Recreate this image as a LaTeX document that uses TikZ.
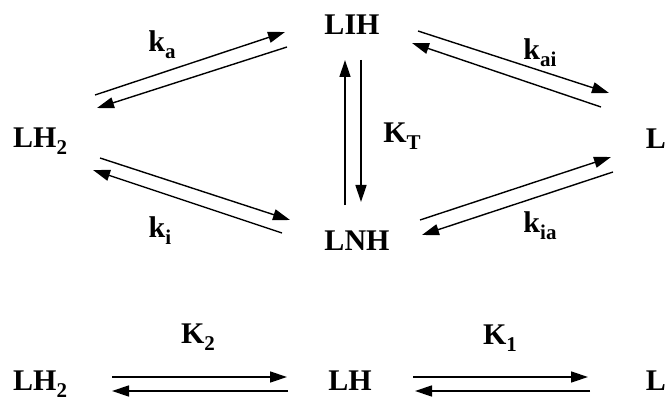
\documentclass[tikz,border=0pt]{standalone}
\usepackage{fontspec}
\setmainfont{Liberation Serif}
\usetikzlibrary{arrows.meta, calc}
\newcommand{\lowsub}[1]{\raisebox{-7pt}{\fontsize{21pt}{21pt}\selectfont #1}}

\begin{document}
\begin{tikzpicture}[x=1pt, y=-1pt, >={Triangle[length=17pt, width=11pt]},
  species/.style={font=\fontsize{30pt}{30pt}\selectfont\bfseries, inner sep=0pt},
  rate/.style={font=\fontsize{30pt}{30pt}\selectfont\bfseries, inner sep=0pt, anchor=base},
  react/.style={->, line width=1.4pt}]

\useasboundingbox (0,0) rectangle (667,401);

% --- Species of the cycle ---
\node[species, anchor=base] (lih) at (352, 35) {LIH};
\node[species, anchor=base] (lnh) at (357, 250) {LNH};
\node[species, anchor=base west] (lhtwo) at (13, 148) {LH\lowsub{2}};
\node[species, anchor=base east] (lmid) at (666, 149) {L};

% --- Species of the chain ---
\node[species, anchor=base west] (lhtwob) at (13, 390) {LH\lowsub{2}};
\node[species, anchor=base] (lh) at (350, 390) {LH};
\node[species, anchor=base east] (lbot) at (666, 390) {L};

% --- Rate labels ---
\node[rate] (ka) at (162, 52) {k\lowsub{a}};
\node[rate] (kai) at (540, 60) {k\lowsub{ai}};
\node[rate] (kt) at (402, 143) {K\lowsub{T}};
\node[rate] (ki) at (160, 237) {k\lowsub{i}};
\node[rate] (kia) at (540, 233) {k\lowsub{ia}};
\node[rate] (ktwo) at (198, 343) {K\lowsub{2}};
\node[rate] (kone) at (500, 344) {K\lowsub{1}};

% --- LH2 <-> LIH ---
\draw[react] ($(lhtwo.base west)+(82,-53)$) -- ($(lih.base)+(-67,-3)$);
\draw[react] ($(lih.base)+(-65,12)$) -- ($(lhtwo.base west)+(84,-40)$);

% --- LIH <-> L ---
\draw[react] ($(lih.base)+(66,-4)$) -- ($(lmid.base east)+(-57,-56)$);
\draw[react] ($(lmid.base east)+(-65,-42)$) -- ($(lih.base)+(60,8)$);

% --- LIH <-> LNH ---
\draw[react] ($(lnh.base)+(-12,-45)$) -- ($(lih.base)+(-7,25)$);
\draw[react] ($(lih.base)+(9,25)$) -- ($(lnh.base)+(4,-48)$);

% --- LNH <-> L ---
\draw[react] ($(lnh.base)+(63,-30)$) -- ($(lmid.base east)+(-55,8)$);
\draw[react] ($(lmid.base east)+(-53,23)$) -- ($(lnh.base)+(65,-15)$);

% --- LH2 <-> LNH ---
\draw[react] ($(lhtwo.base west)+(87,10)$) -- ($(lnh.base)+(-67,-30)$);
\draw[react] ($(lnh.base)+(-75,-17)$) -- ($(lhtwo.base west)+(80,22)$);

% --- LH2 <-> LH <-> L ---
\draw[react] ($(lhtwob.base west)+(99,-13)$) -- ($(lh.base)+(-63,-13)$);
\draw[react] ($(lh.base)+(-62,1)$) -- ($(lhtwob.base west)+(99,1)$);
\draw[react] ($(lh.base)+(63,-13)$) -- ($(lbot.base east)+(-78,-13)$);
\draw[react] ($(lbot.base east)+(-76,1)$) -- ($(lh.base)+(65,1)$);

\end{tikzpicture}
\end{document}
